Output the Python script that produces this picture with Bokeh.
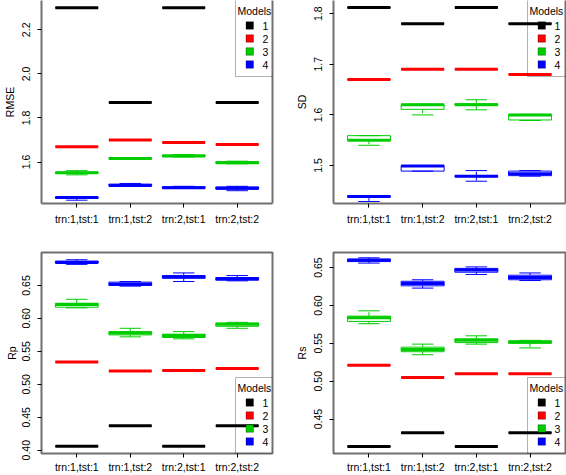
from bokeh.plotting import figure
from bokeh.models import (Range1d, FixedTicker, PrintfTickFormatter, LinearAxis,
                          ColumnDataSource, BoxAnnotation, Label, Title)
from bokeh.layouts import gridplot
from bokeh.embed import file_html
from bokeh.resources import INLINE

categories = ["trn:1,tst:1", "trn:1,tst:2", "trn:2,tst:1", "trn:2,tst:2"]
model_names = ["1", "2", "3", "4"]
model_colors = ["#000000", "#FF0000", "#00CD00", "#0000FF"]

# five-number summaries per category: [lower whisker, Q1, median, Q3, upper whisker]
rmse_1 = [[2.300, 2.300, 2.300, 2.300, 2.300], [1.870, 1.870, 1.870, 1.870, 1.870],
          [2.300, 2.300, 2.300, 2.300, 2.300], [1.870, 1.870, 1.870, 1.870, 1.870]]
rmse_2 = [[1.670, 1.670, 1.670, 1.670, 1.670], [1.700, 1.700, 1.700, 1.700, 1.700],
          [1.689, 1.689, 1.689, 1.689, 1.689], [1.680, 1.680, 1.680, 1.680, 1.680]]
rmse_3 = [[1.542, 1.549, 1.551, 1.554, 1.561], [1.613, 1.614, 1.616, 1.619, 1.620],
          [1.623, 1.625, 1.628, 1.632, 1.634], [1.592, 1.594, 1.597, 1.602, 1.604]]
rmse_4 = [[1.427, 1.436, 1.439, 1.441, 1.442], [1.491, 1.492, 1.494, 1.500, 1.503],
          [1.480, 1.481, 1.484, 1.488, 1.490], [1.470, 1.477, 1.481, 1.487, 1.490]]

sd_1 = [[1.812, 1.812, 1.812, 1.812, 1.812], [1.780, 1.780, 1.780, 1.780, 1.780],
        [1.812, 1.812, 1.812, 1.812, 1.812], [1.780, 1.780, 1.780, 1.780, 1.780]]
sd_2 = [[1.670, 1.670, 1.670, 1.670, 1.670], [1.690, 1.690, 1.690, 1.690, 1.690],
        [1.690, 1.690, 1.690, 1.690, 1.690], [1.680, 1.680, 1.680, 1.680, 1.680]]
sd_3 = [[1.540, 1.550, 1.550, 1.559, 1.559], [1.600, 1.611, 1.620, 1.621, 1.621],
        [1.610, 1.619, 1.620, 1.622, 1.630], [1.589, 1.590, 1.600, 1.601, 1.601]]
sd_4 = [[1.429, 1.438, 1.439, 1.440, 1.440], [1.489, 1.489, 1.499, 1.500, 1.500],
        [1.469, 1.478, 1.479, 1.480, 1.490], [1.479, 1.480, 1.484, 1.489, 1.490]]

rp_1 = [[0.406, 0.406, 0.406, 0.406, 0.406], [0.437, 0.437, 0.437, 0.437, 0.437],
        [0.406, 0.406, 0.406, 0.406, 0.406], [0.437, 0.437, 0.437, 0.437, 0.437]]
rp_2 = [[0.534, 0.534, 0.534, 0.534, 0.534], [0.520, 0.520, 0.520, 0.520, 0.520],
        [0.521, 0.521, 0.521, 0.521, 0.521], [0.524, 0.524, 0.524, 0.524, 0.524]]
rp_3 = [[0.616, 0.617, 0.621, 0.623, 0.629], [0.572, 0.575, 0.578, 0.580, 0.585],
        [0.569, 0.571, 0.574, 0.576, 0.580], [0.585, 0.588, 0.591, 0.593, 0.594]]
rp_4 = [[0.682, 0.684, 0.685, 0.687, 0.689], [0.649, 0.650, 0.652, 0.655, 0.656],
        [0.656, 0.661, 0.663, 0.665, 0.669], [0.657, 0.658, 0.660, 0.662, 0.665]]

rs_1 = [[0.414, 0.414, 0.414, 0.414, 0.414], [0.432, 0.432, 0.432, 0.432, 0.432],
        [0.414, 0.414, 0.414, 0.414, 0.414], [0.432, 0.432, 0.432, 0.432, 0.432]]
rs_2 = [[0.521, 0.521, 0.521, 0.521, 0.521], [0.505, 0.505, 0.505, 0.505, 0.505],
        [0.510, 0.510, 0.510, 0.510, 0.510], [0.510, 0.510, 0.510, 0.510, 0.510]]
rs_3 = [[0.576, 0.579, 0.584, 0.586, 0.593], [0.535, 0.539, 0.542, 0.545, 0.549],
        [0.549, 0.551, 0.554, 0.556, 0.560], [0.544, 0.550, 0.552, 0.553, 0.554]]
rs_4 = [[0.656, 0.658, 0.660, 0.661, 0.663], [0.623, 0.626, 0.629, 0.632, 0.634],
        [0.641, 0.644, 0.647, 0.649, 0.651], [0.633, 0.634, 0.637, 0.640, 0.643]]

rmse_ticks = [1.6, 1.8, 2.0, 2.2]
sd_ticks = [1.5, 1.6, 1.7, 1.8]
rp_ticks = [0.40, 0.45, 0.50, 0.55, 0.60, 0.65]
rs_ticks = [0.45, 0.50, 0.55, 0.60, 0.65]

FONT = "Liberation Sans"
FS = "10.5px"
BORDER = "#707070"
HALF_BOX = 0.4
HALF_STAPLE = 0.2
FRAME_W = 233


def add_legend(p, W, H, top):
    LW, LH = 39, 76
    x0 = W - LW
    ytop = H if top else LH
    p.add_layout(BoxAnnotation(left=x0, right=W, bottom=ytop - LH, top=ytop + (3 if top else 0),
                               left_units="screen", right_units="screen",
                               top_units="screen", bottom_units="screen",
                               fill_alpha=0, line_color="black", line_width=1))
    p.add_layout(Label(x=x0 + 2, y=ytop - 10, x_units="screen", y_units="screen",
                       text="Models", text_font=FONT, text_font_size=FS, text_color="black",
                       text_align="left", text_baseline="middle"))
    for i, off in enumerate([25, 38, 51, 64]):
        cy = ytop - off
        p.add_layout(BoxAnnotation(left=x0 + 10.5, right=x0 + 18, bottom=cy - 3.75, top=cy + 3.75,
                                   left_units="screen", right_units="screen",
                                   top_units="screen", bottom_units="screen",
                                   fill_color=model_colors[i], fill_alpha=1,
                                   line_color="black", line_width=1))
        p.add_layout(Label(x=x0 + 27, y=cy, x_units="screen", y_units="screen",
                           text=model_names[i], text_font=FONT, text_font_size=FS,
                           text_color="black", text_align="left", text_baseline="middle"))


def make_panel(ylabel, series, yr, yticks, fmt, legend_top, top_row, left_col, btop=7,
               title_label=False):
    width = 292 if left_col else 274
    if top_row:
        height, bbot = 243, 40
        btop = 0
        fh = 203
    else:
        height, bbot = 232, 19
        fh = height - btop - bbot
    p = figure(width=width, height=height, output_backend="svg", toolbar_location=None,
               x_range=Range1d(0.34, 4.66), y_range=Range1d(*yr),
               min_border_left=(39 if left_col else 40), min_border_right=(20 if left_col else 1),
               min_border_top=btop, min_border_bottom=bbot)
    p.xgrid.visible = False
    p.ygrid.visible = False
    p.background_fill_color = "white"
    p.border_fill_color = "white"

    p.xaxis.ticker = FixedTicker(ticks=[1, 2, 3, 4])
    p.xaxis.major_label_overrides = {i + 1: c for i, c in enumerate(categories)}
    p.yaxis.ticker = FixedTicker(ticks=yticks)
    p.yaxis.formatter = PrintfTickFormatter(format=fmt)
    p.yaxis.major_label_orientation = "vertical"
    if not title_label:
        p.yaxis.axis_label = ylabel
    for ax in (p.xaxis, p.yaxis):
        ax.major_tick_in = 0
        ax.major_tick_out = 4
        ax.major_tick_line_color = "black"
        ax.minor_tick_line_color = None
        ax.major_label_text_font = FONT
        ax.major_label_text_font_size = FS
        ax.major_label_text_color = "black"
        ax.major_label_text_line_height = 1.0
        ax.axis_label_text_font = FONT
        ax.axis_label_text_font_size = FS
        ax.axis_label_text_font_style = "normal"
        ax.axis_label_text_color = "black"
        ax.axis_label_text_line_height = 1.0
    p.xaxis.major_label_standoff = 5 if top_row else 3
    p.yaxis.major_label_standoff = 7
    p.yaxis.axis_label_standoff = 4
    if title_label:
        p.add_layout(Title(text=ylabel, align="center", standoff=4,
                           text_font=FONT, text_font_size=FS, text_font_style="normal",
                           text_color="black"), "left")

    if top_row:
        p.outline_line_color = None
        for ax in (p.xaxis, p.yaxis):
            ax.axis_line_color = BORDER
            ax.axis_line_width = 2
        rax = LinearAxis(ticker=FixedTicker(ticks=[]), axis_line_color=BORDER, axis_line_width=2,
                         major_tick_line_color=None, minor_tick_line_color=None,
                         major_tick_out=0, minor_tick_out=0, major_label_standoff=0,
                         major_label_text_font_size="0px")
        p.add_layout(rax, "right")
    else:
        p.outline_line_color = BORDER
        p.outline_line_width = 2
        for ax in (p.xaxis, p.yaxis):
            ax.axis_line_color = None

    xs = [1, 2, 3, 4]
    for m, stats in enumerate(series):
        c = model_colors[m]
        src = ColumnDataSource(dict(
            x=xs,
            lw=[s[0] for s in stats], q1=[s[1] for s in stats], med=[s[2] for s in stats],
            q3=[s[3] for s in stats], uw=[s[4] for s in stats],
            bl=[x - HALF_BOX for x in xs], br=[x + HALF_BOX for x in xs],
            sl=[x - HALF_STAPLE for x in xs], sr=[x + HALF_STAPLE for x in xs]))
        p.segment("x", "q3", "x", "uw", source=src, line_color=c, line_width=1, line_dash="4 4")
        p.segment("x", "q1", "x", "lw", source=src, line_color=c, line_width=1, line_dash="4 4")
        p.segment("sl", "uw", "sr", "uw", source=src, line_color=c, line_width=1)
        p.segment("sl", "lw", "sr", "lw", source=src, line_color=c, line_width=1)
        p.quad(left="bl", right="br", bottom="q1", top="q3", source=src,
               fill_color=None, line_color=c, line_width=1)
        p.segment("bl", "med", "br", "med", source=src, line_color=c, line_width=3)

    add_legend(p, FRAME_W, fh, legend_top)
    return p


p1 = make_panel("RMSE", [rmse_1, rmse_2, rmse_3, rmse_4], (1.412, 2.333), rmse_ticks, "%.1f",
                True, True, True)
p2 = make_panel("SD", [sd_1, sd_2, sd_3, sd_4], (1.425, 1.826), sd_ticks, "%.1f",
                True, True, False)
p3 = make_panel("Rp", [rp_1, rp_2, rp_3, rp_4], (0.395, 0.700), rp_ticks, "%.2f",
                False, False, True, btop=7, title_label=True)
p4 = make_panel("Rs", [rs_1, rs_2, rs_3, rs_4], (0.4046, 0.670), rs_ticks, "%.2f",
                False, False, False, btop=9)

grid = gridplot([[p1, p2], [p3, p4]], toolbar_location=None)

open("out.html", "w").write(file_html(grid, INLINE))
